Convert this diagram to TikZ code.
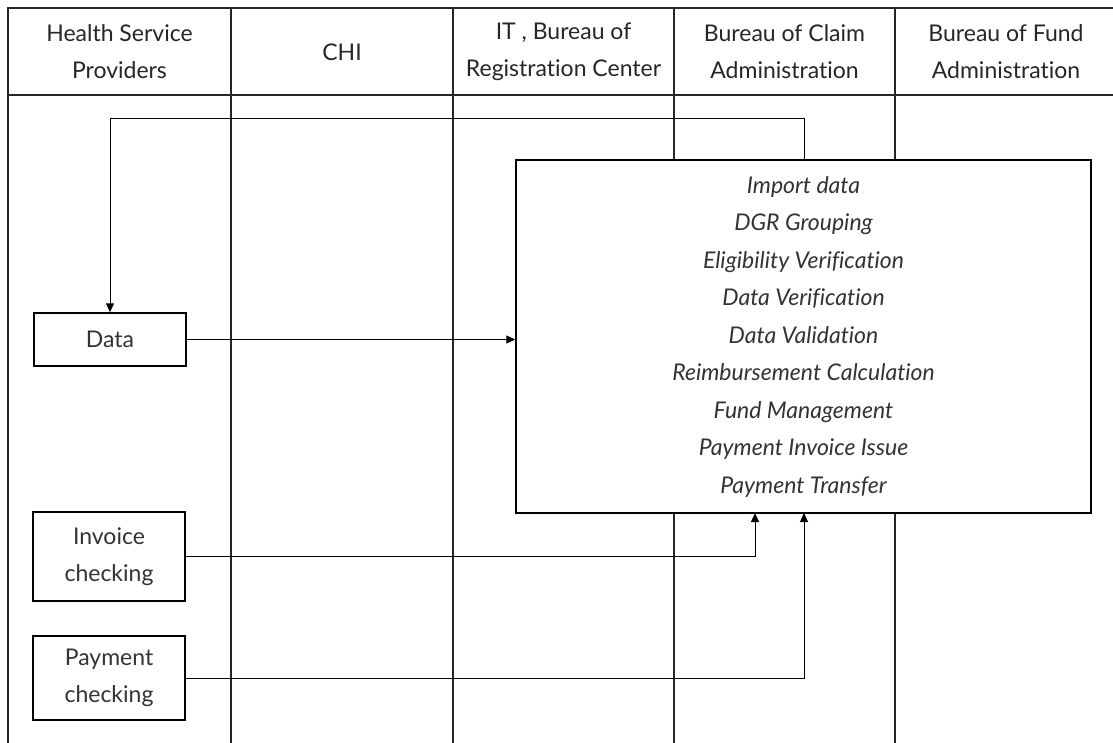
\documentclass[tikz,border=0pt]{standalone}
\usepackage{fontspec}
\setmainfont{Lato}[Ligatures=NoCommon]
\usetikzlibrary{arrows.meta}
\begin{document}
\begin{tikzpicture}[x=1pt,y=-1pt,
  lane/.style={line width=1.5pt,draw=black!85},
  procbox/.style={draw=black,line width=1.5pt,fill=white,inner sep=0pt,
    align=center,text=black!80,font=\fontsize{23}{37.5}\selectfont},
  head/.style={align=center,text=black!85,font=\fontsize{23}{37}\selectfont},
  flow/.style={line width=1pt,-{Triangle[length=9pt,width=8pt]}}]
\useasboundingbox (0,0) rectangle (1113,743);
% swimlane grid
\draw[lane] (1113,8) -- (8,8) -- (8,743);
\draw[lane] (8,95) -- (1113,95);
\foreach \x in {231,453,674,895} \draw[lane] (\x,8) -- (\x,743);
% lane headings
\node[head] (h1) at (119.5,52) {Health Service\\Providers};
\node[head] (h2) at (342,52) {CHI};
\node[head] (h3) at (563.5,52) {IT , Bureau of\\Registration Center};
\node[head] (h4) at (784.5,52) {Bureau of Claim\\Administration};
\node[head] (h5) at (1006,52) {Bureau of Fund\\Administration};
% process boxes
\node[procbox,minimum width=575pt,minimum height=353pt] (main) at (803.5,336.5)
  {\itshape Import data\\\itshape DGR Grouping\\\itshape Eligibility Verification\\
   \itshape Data Verification\\\itshape Data Validation\\
   \itshape Reimbursement Calculation\\\itshape Fund Management\\
   \itshape Payment Invoice Issue\\\itshape Payment Transfer};
\node[procbox,minimum width=152pt,minimum height=53pt] (data) at (110,339.5) {Data};
\node[procbox,minimum width=152pt,minimum height=89pt] (inv) at (109,556.5) {Invoice\\checking};
\node[procbox,minimum width=152pt,minimum height=84pt] (pay) at (109,678) {Payment\\checking};
% connectors
\coordinate (fbtop) at (804,119);
\draw[flow] (main.north -| fbtop) -- (fbtop) -| (data.north);
\draw[flow] (data.east) -- (main.west |- data.east);
\draw[flow] (inv.east) -| (755,513);
\draw[flow] (pay.east) -| (804,513);
\end{tikzpicture}
\end{document}
